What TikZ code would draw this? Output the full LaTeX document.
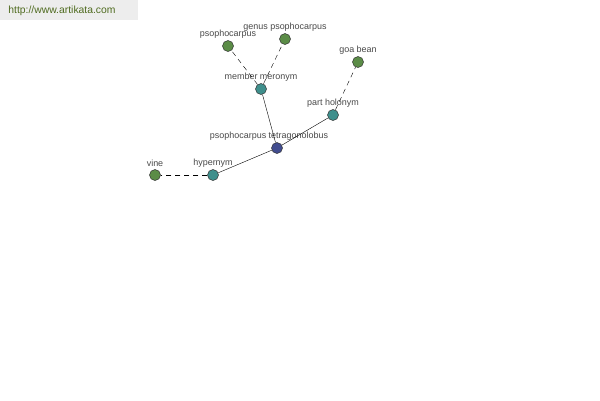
\documentclass[tikz,border=0pt]{standalone}
\usepackage{fontspec}
\setmainfont{Liberation Sans}
\usetikzlibrary{positioning}
\definecolor{leaf}{HTML}{5B8C47}
\definecolor{rel}{HTML}{3F8F8C}
\definecolor{root}{HTML}{414C8E}
\definecolor{txt}{HTML}{4A4A4A}
\definecolor{site}{HTML}{4F6B1F}

\begin{document}
\begin{tikzpicture}[
  x=1bp,y=-1bp,
  dot/.style={circle,draw=black!80,line width=0.5bp,inner sep=0pt,minimum size=11bp},
  lbl/.style={font=\fontsize{9}{10}\selectfont,text=txt,inner sep=1bp},
  rim/.style={label={[lbl,label distance=1bp]above:#1}},
  hop/.style={dash pattern=on 5bp off 4bp}]

% page and banner
\useasboundingbox (0,0) rectangle (600,400);
\fill[white] (0,0) rectangle (600,400);
\fill[black!7] (0,0) rectangle (138,20);
\node[font=\fontsize{10.4}{12}\selectfont,text=site] (site) at (62,11) {http://www.artikata.com};

% word nodes
\node[dot,fill=root,label={[lbl,label distance=1bp,xshift=-8bp]above:psophocarpus tetragonolobus}] (ptet) at (277,148) {};
\node[dot,fill=rel,rim={member meronym}] (memb) at (261,89) {};
\node[dot,fill=rel,rim={part holonym}] (part) at (333,115) {};
\node[dot,fill=rel,rim={hypernym}] (hyper) at (213,175) {};
\node[dot,fill=leaf,rim={psophocarpus}] (psoph) at (228,46) {};
\node[dot,fill=leaf,rim={genus psophocarpus}] (genus) at (285,39) {};
\node[dot,fill=leaf,rim={goa bean}] (goa) at (358,62) {};
\node[dot,fill=leaf,rim={vine}] (vine) at (155,175) {};

% links
\draw (ptet) -- (memb);
\draw (ptet) -- (part);
\draw (ptet) -- (hyper);
\draw[hop] (memb) -- (psoph);
\draw[hop] (memb) -- (genus);
\draw[hop] (part) -- (goa);
\draw[hop] (hyper) -- (vine);
\end{tikzpicture}
\end{document}
